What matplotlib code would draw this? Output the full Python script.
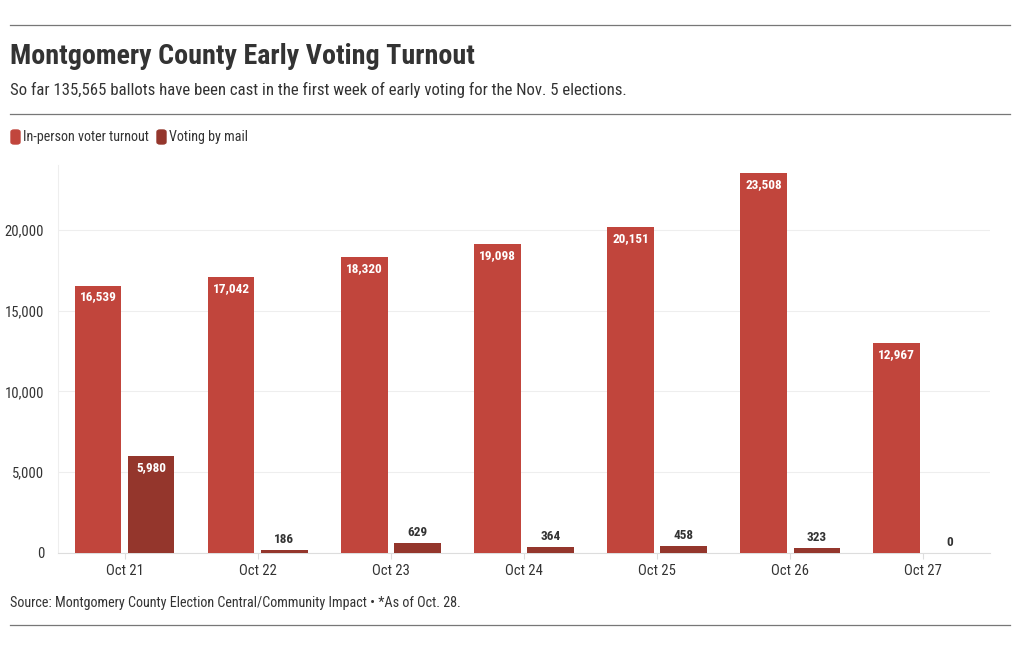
import matplotlib
matplotlib.use("Agg")
import matplotlib.pyplot as plt
from matplotlib import font_manager
from matplotlib.patches import FancyBboxPatch
from matplotlib.lines import Line2D
import numpy as np

names = {f.name for f in font_manager.fontManager.ttflist}
FONT = "Roboto Condensed" if "Roboto Condensed" in names else ("Liberation Sans Narrow" if "Liberation Sans Narrow" in names else "Roboto")
plt.rcParams['font.family'] = [FONT, 'DejaVu Sans']

categories = ["Oct 21", "Oct 22", "Oct 23", "Oct 24", "Oct 25", "Oct 26", "Oct 27"]
in_person = [16539, 17042, 18320, 19098, 20151, 23508, 12967]
by_mail = [5980, 186, 629, 364, 458, 323, 0]
yticks = [0, 5000, 10000, 15000, 20000]

c_in = "#c1453c"
c_mail = "#94362c"

W, H = 1020, 650
fig = plt.figure(figsize=(W/100, H/100), dpi=100)

def fx(px): return px / W
def fy(py): return 1 - py / H

ax = fig.add_axes([fx(58), fy(553), fx(990) - fx(58), fy(165) - fy(553)])
x = np.arange(len(categories))
bw = 0.35
off = 0.2
ax.bar(x - off, in_person, bw, color=c_in, zorder=3)
ax.bar(x + off, by_mail, bw, color=c_mail, zorder=3)
ax.set_xlim(-0.5, len(categories) - 0.5)
ax.set_ylim(0, 24000)
ax.set_yticks(yticks)
ax.set_yticklabels([f"{v:,}" for v in yticks], fontsize=10.5, color="#333333")
ax.set_xticks(x)
ax.set_xticklabels(categories, fontsize=10.5, color="#333333")
ax.tick_params(axis='y', length=0, pad=10)
ax.tick_params(axis='x', length=4, color="#dddddd", pad=4)
ax.grid(axis='y', color="#eeeeee", linewidth=0.8, zorder=0)
for s in ["top", "right"]:
    ax.spines[s].set_visible(False)
ax.spines["left"].set_color("#eeeeee")
ax.spines["bottom"].set_color("#dddddd")

def label(xpos, v, inside):
    if inside:
        ax.text(xpos, v - 300, f"{v:,}", ha="center", va="top", color="white",
                fontsize=9.5, fontweight="bold", zorder=4)
    else:
        ax.text(xpos, v + 250, f"{v:,}", ha="center", va="bottom", color="#333333",
                fontsize=9.5, fontweight="bold", zorder=4)

for i in range(len(categories)):
    label(x[i] - off, in_person[i], in_person[i] > 1500)
    label(x[i] + off, by_mail[i], by_mail[i] > 1500)

# header and footer
for py in [25, 114, 625]:
    fig.add_artist(Line2D([fx(10), fx(1010)], [fy(py), fy(py)], color="#777777", linewidth=0.9))

fig.text(fx(10), fy(57), "Montgomery County Early Voting Turnout", fontsize=20.2,
         fontweight="bold", color="#333333", va="center", ha="left")
fig.text(fx(10), fy(90), "So far 135,565 ballots have been cast in the first week of early voting for the Nov. 5 elections.",
         fontsize=12.1, color="#333333", va="center", ha="left")

# legend
def legend_item(px, text, color):
    fig.add_artist(FancyBboxPatch((fx(px), fy(144)), fx(9), fy(130) - fy(144),
                                  boxstyle="round,pad=0,rounding_size=0.003",
                                  transform=fig.transFigure, color=color))
    fig.text(fx(px + 12), fy(137), text, fontsize=10.2, color="#333333", va="center", ha="left")

legend_item(11, "In-person voter turnout", c_in)
legend_item(157, "Voting by mail", c_mail)

fig.text(fx(10), fy(603), "Source: Montgomery County Election Central/Community Impact • *As of Oct. 28.",
         fontsize=10.2, color="#333333", va="center", ha="left")

fig.savefig("out.png", dpi=100)
